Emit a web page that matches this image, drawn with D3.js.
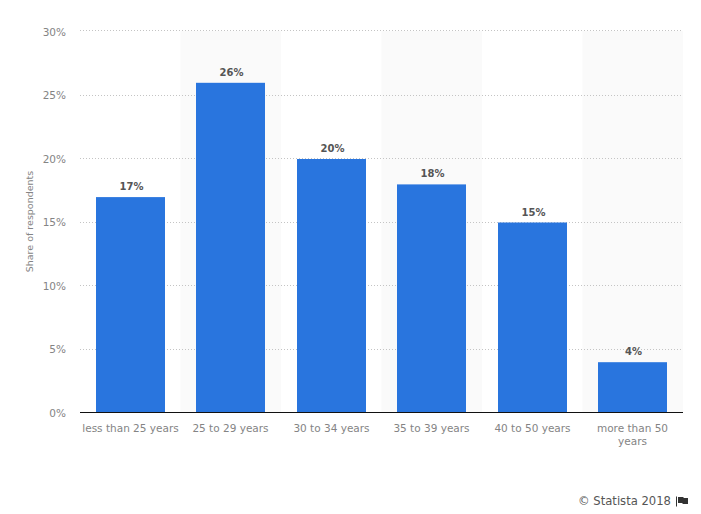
<!DOCTYPE html>
<html lang="en">

<head>
    <meta charset="UTF-8" />
    <title>Share of respondents by age</title>
    <style>
        html, body { margin: 0; padding: 0; background: #fff; }
        svg { display: block; }
        text { font-family: "DejaVu Sans", sans-serif; }
    </style>
</head>

<body>
    <div id="container"></div>
</body>
<script src="https://cdnjs.cloudflare.com/ajax/libs/d3/7.1.1/d3.min.js"></script>
<script>
    const categories = ["less than 25 years", "25 to 29 years", "30 to 34 years", "35 to 39 years", "40 to 50 years", "more than 50 years"];
    const values = [17, 26, 20, 18, 15, 4];
    const yTicks = [0, 5, 10, 15, 20, 25, 30];

    const width = 701, height = 514;
    const plotL = 80, plotR = 683, plotT = 31, plotB = 412;

    const svg = d3.select("#container").append("svg").attr("width", width).attr("height", height);

    const x = d3.scaleBand().domain(categories).range([plotL, plotR]);
    const y = d3.scaleLinear().domain([0, 30]).range([plotB, plotT]);
    const barW = 69;
    const barX = d => Math.round(x(d) + (x.bandwidth() - barW) / 2);
    const barY = d => y(d) + 1;

    // alternating bands
    svg.selectAll("rect.band").data(categories.filter((d, i) => i % 2 == 1)).enter().append("rect")
        .attr("class", "band")
        .attr("x", d => x(d))
        .attr("y", plotT)
        .attr("width", x.bandwidth())
        .attr("height", plotB - plotT)
        .style("fill", "#fafafa");

    // y axis labels
    const yAxis = svg.append("g")
        .attr("transform", `translate(${plotL},0)`)
        .call(d3.axisLeft(y).tickValues(yTicks).tickFormat(d => d + "%").tickSize(0).tickPadding(14));
    yAxis.select(".domain").remove();
    yAxis.selectAll("text").style("font-size", "10.5px").style("fill", "#848484").attr("dy", "0.4em");

    // dotted grid, snapped to whole pixels so the dots stay crisp
    svg.selectAll("line.grid").data(yTicks.filter(d => d > 0)).enter().append("line")
        .attr("class", "grid")
        .attr("x1", plotL).attr("x2", plotR)
        .attr("y1", d => (d == 30 ? plotT - 1 : Math.ceil(y(d))) + 0.5)
        .attr("y2", d => (d == 30 ? plotT - 1 : Math.ceil(y(d))) + 0.5)
        .style("stroke", "#c4c4c4")
        .style("stroke-dasharray", "1,2");

    svg.append("text")
        .attr("transform", `translate(33,${(plotT + plotB) / 2}) rotate(-90)`)
        .attr("text-anchor", "middle")
        .style("font-size", "9.5px")
        .style("fill", "#848484")
        .text("Share of respondents");

    // bars
    svg.selectAll("rect.bar").data(values).enter().append("rect")
        .attr("class", "bar")
        .attr("x", (d, i) => barX(categories[i]))
        .attr("y", d => barY(d))
        .attr("width", barW)
        .attr("height", d => plotB - barY(d))
        .style("fill", "#2975de");

    // value labels
    svg.selectAll("text.val").data(values).enter().append("text")
        .attr("class", "val")
        .attr("x", (d, i) => barX(categories[i]) + barW / 2 + 1)
        .attr("y", d => barY(d) - 7)
        .attr("text-anchor", "middle")
        .style("font-size", "10px")
        .style("font-weight", "bold")
        .style("fill", "#555")
        .text(d => d + "%");

    // x axis line
    svg.append("line")
        .attr("x1", plotL).attr("x2", plotR)
        .attr("y1", plotB + 0.5).attr("y2", plotB + 0.5)
        .style("stroke", "#111");

    // x labels, last one wraps
    const wrapLines = d => d == "more than 50 years" ? ["more than 50", "years"] : [d];
    const lab = svg.selectAll("text.cat").data(categories).enter().append("text")
        .attr("class", "cat")
        .attr("text-anchor", "middle")
        .style("font-size", "10.5px")
        .style("fill", "#848484");
    lab.selectAll("tspan").data(d => wrapLines(d).map(t => ({ t, c: d }))).enter().append("tspan")
        .attr("x", d => barX(d.c) + barW / 2)
        .attr("y", (d, i) => plotB + 20 + i * 13)
        .text(d => d.t);

    // credit
    svg.append("text")
        .attr("x", 671)
        .attr("y", 505)
        .attr("text-anchor", "end")
        .style("font-size", "11.6px")
        .style("fill", "#555")
        .text("© Statista 2018");
    svg.append("path")
        .attr("d", "M676 496.5h1v10h-1z M678 497h5l1 1h4v6h-5l-1 -1h-4z")
        .style("fill", "#333");
</script>

</html>
